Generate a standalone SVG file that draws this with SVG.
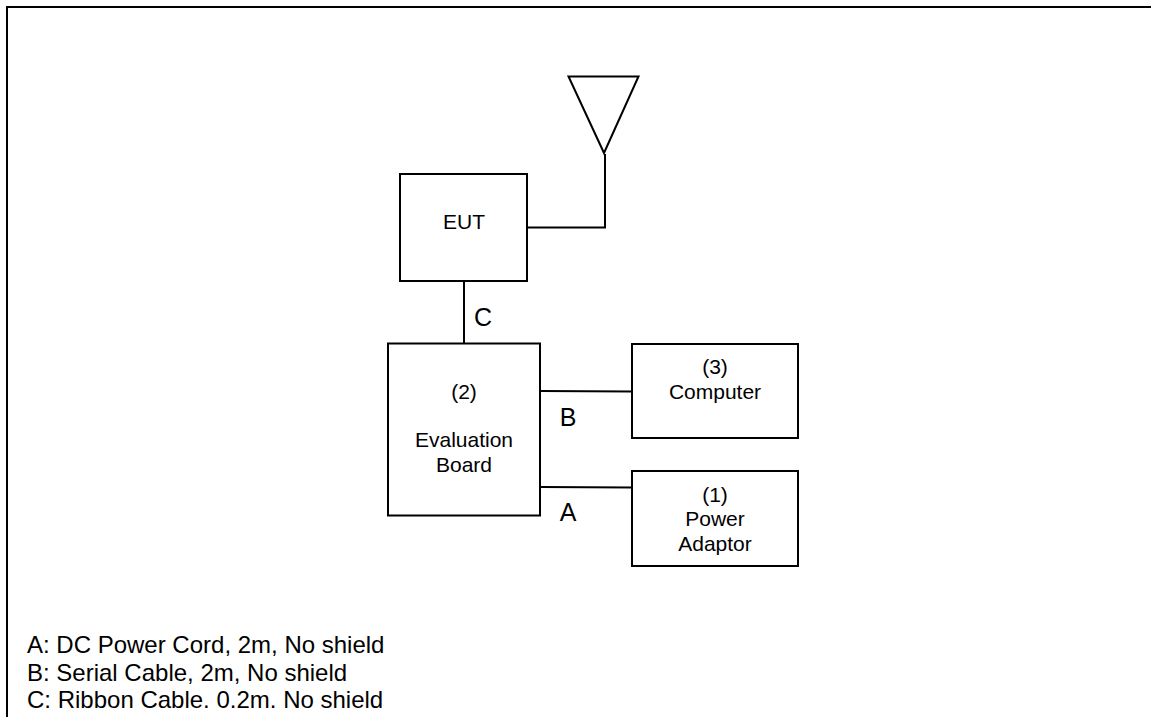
<svg xmlns="http://www.w3.org/2000/svg" width="1151" height="717" viewBox="0 0 1151 717">
<style>
.s{fill:none;stroke:#000;stroke-width:2}
.b{fill:#fff;stroke:#000;stroke-width:2}
text{font-family:"Liberation Sans",Arial,sans-serif;fill:#000}
.n{font-size:21px;text-anchor:middle}
.l{font-size:25px;text-anchor:middle}
.k{font-size:24px}
</style>
<rect width="1151" height="717" fill="#fff"/>
<path id="frame" class="s" d="M7 717V7H1151"/>
<g id="connectors">
<path class="s" d="M527 227.500H605V154"/>
<path class="s" d="M464 281V343"/>
<path class="s" d="M541 391L632 391.500"/>
<path class="s" d="M541 487L632 487.500"/>
</g>
<g id="antenna"><path class="b" d="M568.500 76.500H638.500L604 153Z"/></g>
<g id="eut"><rect class="b" x="400" y="174" width="127" height="107"/><text class="n" x="464" y="229">EUT</text></g>
<g id="board"><rect class="b" x="388" y="343.500" width="152" height="172"/><text class="n" x="464" y="399">(2)</text><text class="n" x="464" y="447">Evaluation</text><text class="n" x="464" y="472">Board</text></g>
<g id="computer"><rect class="b" x="632" y="344" width="166" height="94"/><text class="n" x="715" y="374">(3)</text><text class="n" x="715" y="399">Computer</text></g>
<g id="adaptor"><rect class="b" x="632" y="471" width="166" height="95"/><text class="n" x="715" y="502">(1)</text><text class="n" x="715" y="526">Power</text><text class="n" x="715" y="551">Adaptor</text></g>
<g id="labels">
<text class="l" x="483" y="326">C</text>
<text class="l" x="568" y="426">B</text>
<text class="l" x="568" y="521">A</text>
</g>
<g id="legend">
<text class="k" x="27" y="653">A: DC Power Cord, 2m, No shield</text>
<text class="k" x="27" y="681">B: Serial Cable, 2m, No shield</text>
<text class="k" x="27" y="708">C: Ribbon Cable. 0.2m. No shield</text>
</g>
</svg>
